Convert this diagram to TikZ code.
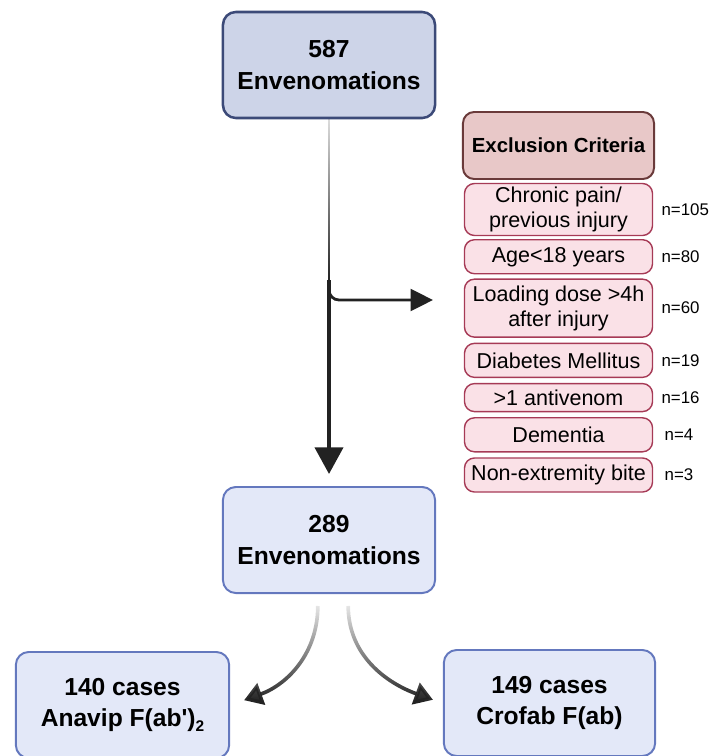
\documentclass[tikz,border=0pt]{standalone}
\usepackage{fontspec}
\setmainfont{Liberation Sans}
\usetikzlibrary{positioning,arrows.meta,fadings}
\definecolor{topfill}{HTML}{CDD4E8}
\definecolor{topline}{HTML}{3C4A78}
\definecolor{boxfill}{HTML}{E3E8F8}
\definecolor{boxline}{HTML}{6478BE}
\definecolor{exfill}{HTML}{E8C8C8}
\definecolor{exline}{HTML}{6A3A3A}
\definecolor{crfill}{HTML}{FAE1E7}
\definecolor{crline}{HTML}{A63A56}
\definecolor{arrowcol}{HTML}{222222}
\tikzfading[name=fade up, top color=transparent!85, bottom color=transparent!0]
\tikzfading[name=fade top, top color=transparent!90, middle color=transparent!0, bottom color=transparent!0]
\newcommand{\subtwo}{\raisebox{-0.35ex}{\fontsize{11}{11}\selectfont 2}}
\tikzset{
  count/.style={draw=boxline, fill=boxfill, line width=1.4pt, rounded corners=0.32cm,
    minimum width=5.3cm, minimum height=2.65cm, align=center,
    font=\bfseries\fontsize{17.5}{22.5}\selectfont},
  total/.style={count, draw=topline, fill=topfill, line width=1.8pt},
  exhead/.style={draw=exline, fill=exfill, line width=1.4pt, rounded corners=0.28cm,
    minimum width=4.775cm, minimum height=1.675cm, align=center,
    font=\bfseries\fontsize{14.5}{17}\selectfont},
  crit/.style={draw=crline, fill=crfill, line width=1pt, rounded corners=0.25cm,
    minimum width=4.7cm, minimum height=0.85cm, inner xsep=2pt, inner ysep=1pt, align=center,
    font=\fontsize{15.3}{17.8}\selectfont},
  ncount/.style={font=\fontsize{12}{14}\selectfont, anchor=west, inner xsep=0pt},
  stem/.style={arrowcol, line width=2pt, path fading=fade up},
  flow/.style={arrowcol, line width=2.8pt, -{Triangle[length=19pt,width=20pt]}, shorten >=0.3cm},
  branch/.style={arrowcol, line width=2pt, rounded corners=0.25cm, -{Triangle[length=16pt,width=15.6pt]}},
  split/.style={arrowcol, line width=2.6pt, -{Triangle[length=13pt,width=16pt]}, path fading=fade top}
}
\begin{document}
\begin{tikzpicture}[x=0.025cm,y=-0.025cm,node distance=0.12cm]
\useasboundingbox (0,0) rectangle (710,756);
\node[total]							(n587)		at (329,65)							{587\\Envenomations};
\node[count]							(n289)		at (329,540)						{289\\Envenomations};
\node[count, minimum width=5.33cm]		(c140)		at (122.5,705)						{140 cases\\Anavip F(ab\textquotesingle)\subtwo};
\node[count, minimum width=5.28cm]		(c149)		at (549.5,703)						{149 cases\\Crofab F(ab)};
\node[exhead]							(ex)		at (558.5,145.5)					{Exclusion Criteria};
\node[crit, minimum height=1.3cm]		(pain)		[below=0.07cm of ex]				{Chronic pain/\\previous injury};
\node[crit]								(age)		[below=0.07cm of pain]				{Age<18 years};
\node[crit, minimum height=1.45cm]		(dose)		[below=0.1cm of age]				{Loading dose >4h\\after injury};
\node[crit]								(dm)		[below=of dose]						{Diabetes Mellitus};
\node[crit, minimum height=0.7cm]		(av)		[below=of dm]						{>1 antivenom};
\node[crit]								(dem)		[below=of av]						{Dementia};
\node[crit]								(bite)		[below=of dem]						{Non-extremity bite};
\node[ncount]							(npain)		[right=0.2cm of pain]				{n=105};
\node[ncount]							(nage)		[right=0.2cm of age]				{n=80};
\node[ncount]							(ndose)		[right=0.2cm of dose]				{n=60};
\node[ncount]							(ndm)		[right=0.2cm of dm]					{n=19};
\node[ncount]							(nav)		[right=0.2cm of av]					{n=16};
\node[ncount]							(ndem)		[right=0.28cm of dem]				{n=4};
\node[ncount]							(nbite)		[right=0.28cm of bite]				{n=3};
\coordinate								(fork)		at (329,280);
\coordinate								(cut)		at (433,300);
\draw[stem]		(n587.south)	--	(fork);
\draw[flow]		(fork)			--	(n289.north);
\draw[branch]	(fork)			|-	(cut);
\draw[split]	([xshift=-0.28cm,yshift=-0.3cm]n289.south)	to[out=-90,in=20]	([xshift=0.35cm,yshift=0.12cm]c140.east);
\draw[split]	([xshift=0.48cm,yshift=-0.3cm]n289.south)	to[out=-90,in=160]	([xshift=-0.25cm,yshift=0.08cm]c149.west);
\end{tikzpicture}
\end{document}
